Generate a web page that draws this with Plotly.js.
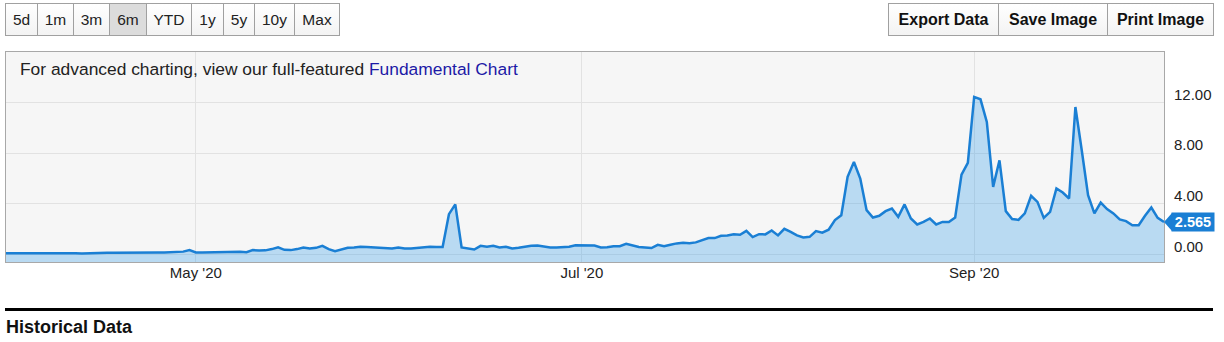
<!DOCTYPE html>
<html><head><meta charset="utf-8">
<script src="https://cdn.plot.ly/plotly-3.0.1.min.js"></script>
<style>
html,body{margin:0;padding:0;background:#fff;width:1224px;height:342px;overflow:hidden;font-family:"Liberation Sans",Arial,sans-serif;}
#chart{position:absolute;left:0;top:0;width:1224px;height:342px;}
.btn{position:absolute;box-sizing:border-box;border:1px solid #a0a0a0;display:flex;align-items:center;justify-content:center;background:linear-gradient(#ffffff,#f3f3f3);color:#222;font-size:15.5px;z-index:5;}
.btn.sel{background:#dcdcdc;}
.btn.bold{font-weight:bold;font-size:16px;color:#111;}
#hline{position:absolute;left:5px;top:308px;width:1208px;height:3px;background:#000;z-index:5;}
#hist{position:absolute;left:6px;top:317px;font-weight:bold;font-size:18px;color:#111;z-index:5;}
</style></head>
<body>
<div id="chart"></div>
<div id="hline"></div>
<div id="hist">Historical Data</div>
<script>
// ---- data (daily values, 2020-04-01 .. 2020-10-01) ----
const apr = [0.10,0.10,0.10,0.10,0.11,0.12,0.14,0.12,0.11,0.10,0.10,0.09,0.08,0.10,0.14,0.15,0.13,0.13,0.14,0.15,0.16,0.15,0.15,0.16,0.15,0.15,0.16,0.20,0.22,0.34];
const may = [0.16,0.16,0.17,0.18,0.19,0.21,0.22,0.21,0.18,0.34,0.30,0.32,0.42,0.56,0.36,0.34,0.42,0.55,0.47,0.52,0.68,0.42,0.26,0.42,0.52,0.55,0.60,0.58,0.55,0.52,0.47];
const jun = [0.47,0.55,0.47,0.47,0.52,0.58,0.60,0.58,0.58,3.18,3.95,0.55,0.47,0.39,0.68,0.60,0.68,0.55,0.60,0.47,0.52,0.63,0.68,0.71,0.60,0.55,0.55,0.55,0.60,0.73];
const jul = [0.71,0.68,0.70,0.55,0.57,0.65,0.65,0.84,0.70,0.58,0.55,0.50,0.76,0.65,0.76,0.87,0.92,0.89,0.95,1.13,1.29,1.29,1.47,1.50,1.60,1.55,1.86,1.37,1.60,1.58,1.89];
const aug = [1.50,2.02,1.78,1.50,1.34,1.39,1.84,1.72,1.95,2.71,3.10,6.13,7.31,6.00,3.50,2.92,3.05,3.42,3.63,2.97,3.95,2.84,2.37,2.57,2.84,2.37,2.57,2.57,2.92,6.31,7.23];
const sep = [12.45,12.26,10.47,5.34,7.44,3.42,2.79,2.73,3.24,4.63,4.15,2.89,3.36,5.21,4.89,4.42,11.65,8.23,4.68,3.24,4.10,3.58,3.24,2.76,2.63,2.31,2.31,3.05,3.71,2.89];
const oct = [2.565];
const startYear = 2020, startMonth = 3, startDay = 1; // 2020-04-01
const xTickVals = ['2020-05-01','2020-07-01','2020-09-01'];
const xTickText = ["May '20","Jul '20","Sep '20"];
const yTickVals = [0,4,8,12];
const rangeButtons = ['5d','1m','3m','6m','YTD','1y','5y','10y','Max'];
const selectedButton = '6m';
const actionButtons = ['Export Data','Save Image','Print Image'];

// ---- layout helpers (positions) ----
const rangeEdges = [5,37,73,109,146,191,223,254,294,339];
const actionEdges = [888,998,1107,1213];
function addButtons(labels, edges, cls){
  labels.forEach((t,i)=>{
    const d=document.createElement('div');
    d.className='btn'+(cls?' '+cls:'')+(t===selectedButton && !cls?' sel':'');
    d.style.left=edges[i]+'px'; d.style.top='3px';
    d.style.width=(edges[i+1]-edges[i]+1)+'px'; d.style.height='33px';
    d.textContent=t; document.body.appendChild(d);
  });
}
addButtons(rangeButtons, rangeEdges, '');
addButtons(actionButtons, actionEdges, 'bold');

const values = [].concat(apr,may,jun,jul,aug,sep,oct);
const dates = values.map((v,i)=>new Date(Date.UTC(startYear,startMonth,startDay+i)).toISOString().slice(0,10));
const yMin = -0.6, yMax = 16;
const lastVal = values[values.length-1];
const lineColor = '#1a7fd4';

const W=1224,H=342, mL=6, mR=60, mT=52, mB=80;
const pw=W-mL-mR, ph=H-mT-mB;
const yP=(lastVal-yMin)/(yMax-yMin);

const traces = [
  {x:dates, y:values.map(()=>yMin-1), mode:'lines', line:{width:0,color:'rgba(0,0,0,0)'}, hoverinfo:'skip', showlegend:false},
  {x:dates, y:values, mode:'lines', fill:'tonexty', fillcolor:'rgba(60,160,235,0.33)', line:{color:lineColor,width:2.5}, showlegend:false}
];
const layout = {
  width:W, height:H, margin:{l:mL,r:mR,t:mT,b:mB},
  paper_bgcolor:'#ffffff', plot_bgcolor:'#f6f6f6',
  font:{family:'"Liberation Sans", Arial, sans-serif', size:14.5, color:'#333'},
  showlegend:false,
  xaxis:{type:'date', range:[dates[0], dates[dates.length-1]], tickvals:xTickVals, ticktext:xTickText,
    showgrid:true, gridcolor:'#e2e2e2', zeroline:false, showline:true, mirror:true, linecolor:'#a8a8a8', linewidth:1,
    ticks:'', tickfont:{size:15,color:'#222'}, ticklabelstandoff:-3},
  yaxis:{side:'right', range:[yMin,yMax], tickvals:yTickVals, tickformat:'.2f',
    showgrid:true, gridcolor:'#e2e2e2', zeroline:false, showline:true, mirror:true, linecolor:'#a8a8a8', linewidth:1,
    ticks:'', tickfont:{size:15,color:'#222'}, ticklabelstandoff:6, ticklabelshift:-8},
  annotations:[
    {xref:'paper', yref:'paper', x:0, y:1, xanchor:'left', yanchor:'middle', xshift:12, yshift:-17, showarrow:false,
     text:'For advanced charting, view our full-featured <span style="color:#1d1aa6">Fundamental Chart</span>',
     font:{size:17.4,color:'#222'}},
    {xref:'paper', yref:'paper', x:1, y:yP, xanchor:'left', yanchor:'middle', xshift:7, showarrow:false,
     text:'<b>'+String(lastVal)+'</b>', font:{size:14.5,color:'#ffffff'}, bgcolor:lineColor, borderpad:1, width:40, height:16}
  ],
  shapes:[
    {type:'path', xref:'paper', yref:'paper',
     path:'M 1 '+yP+' L '+(1+8/pw)+' '+(yP+9/ph)+' L '+(1+8/pw)+' '+(yP-9/ph)+' Z',
     fillcolor:lineColor, line:{width:0}}
  ]
};
Plotly.newPlot('chart', traces, layout, {displayModeBar:false, staticPlot:true});
</script>
</body></html>
